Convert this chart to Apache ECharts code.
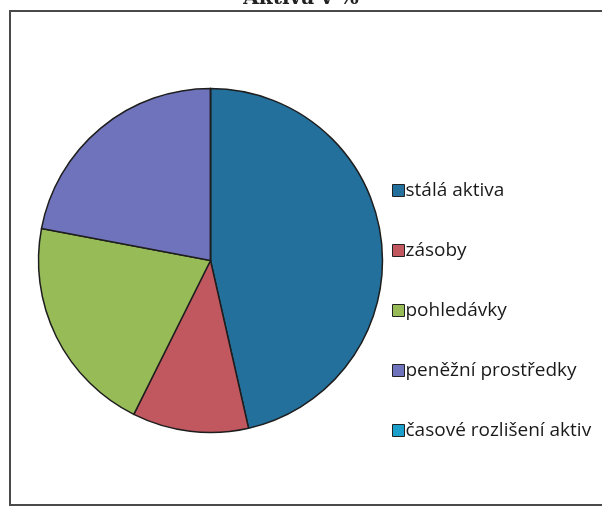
<!DOCTYPE html>
<html>
<head>
<meta charset="utf-8">
<script src="https://cdn.jsdelivr.net/npm/echarts@6/dist/echarts.min.js"></script>
<style>
html,body{margin:0;padding:0;background:#fff;}
#c{width:602px;height:507px;}
</style>
</head>
<body>
<div id="c"></div>
<script>
var categories = ['stálá aktiva', 'zásoby', 'pohledávky', 'peněžní prostředky', 'časové rozlišení aktiv'];
var values = [46.4, 10.9, 20.6, 22.0, 0];
var colors = ['#22709b', '#c2585f', '#97bb57', '#6f73bb', '#1b9fcb'];
var titleText = 'Aktiva v %';

var chart = echarts.init(document.getElementById('c'), null, {renderer: 'canvas'});
chart.setOption({
  animation: false,
  backgroundColor: '#ffffff',
  color: colors,
  title: {
    text: titleText,
    left: 'center',
    top: -11,
    padding: 0,
    textStyle: {fontFamily: 'DejaVu Serif', fontSize: 20, fontWeight: 'bold', color: '#222'}
  },
  graphic: [{
    type: 'rect',
    shape: {x: 10, y: 11, width: 600, height: 494},
    style: {fill: 'none', stroke: '#4a4a4a', lineWidth: 2},
    silent: true
  }],
  legend: {
    orient: 'vertical',
    left: 387,
    top: 176,
    itemWidth: 12,
    itemHeight: 12,
    itemGap: 41,
    icon: 'rect',
    data: categories,
    textStyle: {fontFamily: 'Open Sans', fontSize: 19, lineHeight: 18, color: '#1a1a1a', padding: [0,0,0,-4]},
    itemStyle: {borderColor: '#222', borderWidth: 1}
  },
  series: [{
    type: 'pie',
    center: [210.5, 260.5],
    radius: 172,
    startAngle: 90,
    clockwise: true,
    label: {show: false},
    labelLine: {show: false},
    emphasis: {disabled: true},
    itemStyle: {borderColor: '#1e1e1e', borderWidth: 1.5},
    data: categories.map(function (c, i) { return {name: c, value: values[i]}; })
  }]
});
</script>
</body>
</html>
